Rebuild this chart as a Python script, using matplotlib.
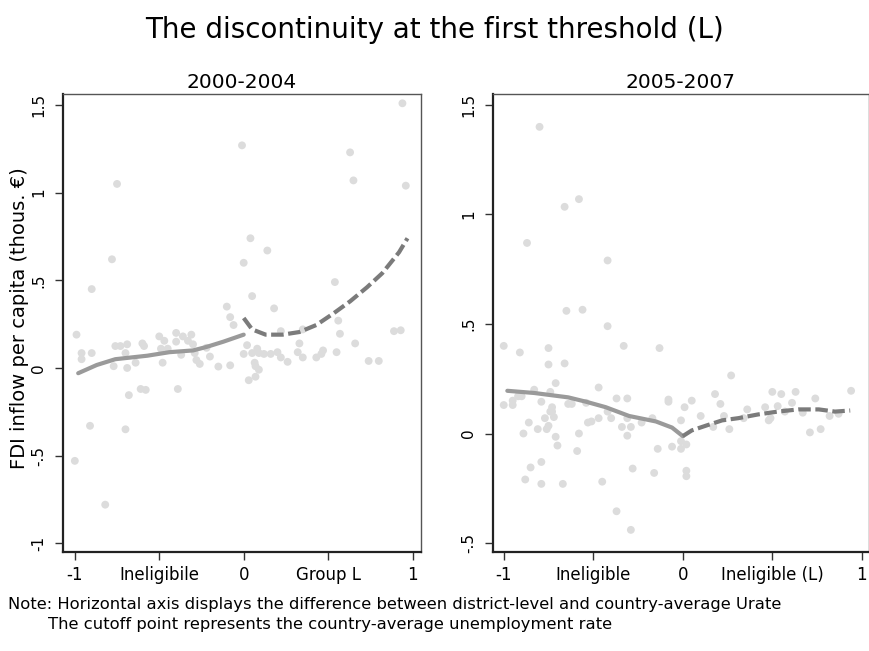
import numpy as np
import matplotlib
matplotlib.use("Agg")
import matplotlib.pyplot as plt

plt.rcParams['font.family'] = ['DejaVu Sans']

# 2000-2004 scatter (x = Urate difference, y = FDI per capita)
x1 = [-0.99, -0.96, -0.96, -0.90, -0.90, -0.78, -0.75, -0.76, -0.73, -0.69, -0.70, -0.77,
      -0.69, -0.64, -0.60, -0.59, -0.50, -0.47, -0.49, -0.45, -0.48, -0.40, -0.40, -0.36,
      -0.33, -0.31, -0.30, -0.37, -0.29, -0.28, -0.26, -0.22, -0.20, -0.15, -0.08, -0.10,
      -0.08, -0.06, -0.01, -0.68, -0.61, -0.58, -0.39, -0.91, -0.70, -1.00, -0.82,
      0.00, 0.04, 0.05, 0.02, 0.00, 0.05, 0.08, 0.09, 0.065, 0.07, 0.09, 0.07, 0.03,
      0.12, 0.16, 0.14, 0.18, 0.20, 0.22, 0.22, 0.26, 0.32, 0.33, 0.35, 0.35, 0.43,
      0.46, 0.47, 0.54, 0.56, 0.57, 0.55, 0.63, 0.65, 0.66, 0.74, 0.80, 0.89, 0.93,
      0.94, 0.96]
y1 = [0.19, 0.085, 0.05, 0.085, 0.45, 0.62, 1.05, 0.125, 0.125, 0.135, 0.085, 0.01,
      0.0, 0.03, 0.14, 0.125, 0.18, 0.155, 0.11, 0.11, 0.03, 0.20, 0.15, 0.18,
      0.155, 0.19, 0.135, 0.075, 0.085, 0.045, 0.023, 0.115, 0.065, 0.008, 0.015, 0.35,
      0.29, 0.245, 1.27, -0.155, -0.12, -0.125, -0.12, -0.33, -0.35, -0.53, -0.78,
      0.60, 0.74, 0.41, 0.13, 0.08, 0.085, 0.11, 0.085, 0.03, 0.01, -0.01, -0.05, -0.07,
      0.08, 0.08, 0.67, 0.34, 0.09, 0.06, 0.21, 0.035, 0.09, 0.14, 0.06, 0.22, 0.06,
      0.08, 0.10, 0.49, 0.27, 0.195, 0.09, 1.23, 1.07, 0.14, 0.04, 0.04, 0.21, 0.215,
      1.51, 1.04]

# 2005-2007 scatter
x2 = [-1.00, -0.91, -0.75, -0.75, -0.66, -0.87, -0.80, -0.66, -0.58, -0.65, -0.56, -0.42,
      -0.42, -0.33, -0.13, 0.27,
      -1.00, -0.95, -0.95, -0.92, -0.90, -0.83, -0.79, -0.71, -0.74, -0.73, -0.73, -0.74,
      -0.72, -0.77, -0.86, -0.81, -0.76, -0.75, -0.89, -0.71, -0.64, -0.62, -0.58, -0.54,
      -0.47, -0.53, -0.51, -0.47, -0.42, -0.40, -0.37, -0.31, -0.34, -0.29, -0.31, -0.31,
      -0.23, -0.17, -0.08, -0.08,
      -0.70, -0.59, -0.79, -0.85, -0.88, -0.79, -0.67, -0.45, -0.14, -0.28, -0.37, -0.29,
      -0.16, -0.06, -0.01, -0.01, 0.02, 0.02, 0.02,
      -0.01, 0.01, 0.05, 0.10, 0.18, 0.21, 0.23, 0.17, 0.26, 0.34, 0.36, 0.46, 0.48, 0.49,
      0.50, 0.53, 0.55, 0.57, 0.61, 0.63, 0.67, 0.71, 0.74, 0.77, 0.82, 0.87, 0.94]
y2 = [0.40, 0.37, 0.39, 0.315, 0.32, 0.87, 1.40, 1.035, 1.07, 0.56, 0.565, 0.79,
      0.49, 0.40, 0.39, 0.265,
      0.13, 0.15, 0.13, 0.17, 0.17, 0.20, 0.145, 0.23, 0.19, 0.12, 0.10, 0.10,
      0.075, 0.07, 0.05, 0.02, 0.02, 0.035, 0.0, -0.015, 0.135, 0.135, 0.0, 0.14,
      0.21, 0.05, 0.055, 0.07, 0.10, 0.07, 0.16, 0.16, 0.03, 0.03, -0.01, 0.07,
      0.05, 0.07, 0.155, 0.145,
      -0.055, -0.08, -0.13, -0.155, -0.21, -0.23, -0.23, -0.22, -0.07, -0.16, -0.355, -0.44,
      -0.18, -0.06, -0.07, -0.035, -0.05, -0.17, -0.195,
      0.06, 0.12, 0.15, 0.08, 0.18, 0.135, 0.08, 0.03, 0.02, 0.07, 0.11, 0.12, 0.06, 0.07,
      0.19, 0.125, 0.18, 0.10, 0.14, 0.19, 0.095, 0.005, 0.16, 0.02, 0.08, 0.09, 0.195]

# local fits, below / above the cutoff
fit1_lo_x = [-0.98, -0.87, -0.76, -0.57, -0.44, -0.30, -0.22, -0.12, 0.0]
fit1_lo_y = [-0.03, 0.017, 0.05, 0.07, 0.09, 0.10, 0.12, 0.15, 0.19]
fit1_hi_x = [0.0, 0.05, 0.13, 0.23, 0.33, 0.43, 0.53, 0.63, 0.73, 0.82, 0.92, 0.97]
fit1_hi_y = [0.285, 0.22, 0.19, 0.19, 0.205, 0.245, 0.31, 0.38, 0.46, 0.54, 0.66, 0.74]
fit2_lo_x = [-0.98, -0.83, -0.64, -0.54, -0.43, -0.30, -0.15, -0.06, 0.0]
fit2_lo_y = [0.195, 0.185, 0.165, 0.145, 0.12, 0.08, 0.055, 0.027, -0.012]
fit2_hi_x = [0.0, 0.05, 0.13, 0.22, 0.31, 0.42, 0.53, 0.645, 0.76, 0.85, 0.935]
fit2_hi_y = [-0.012, 0.014, 0.036, 0.06, 0.07, 0.087, 0.10, 0.11, 0.11, 0.10, 0.105]

xticks = [-1, -0.5, 0, 0.5, 1]
xlab1 = ["-1", "Ineligibile", "0", "Group L", "1"]
xlab2 = ["-1", "Ineligible", "0", "Ineligible (L)", "1"]
yticks1 = [-1, -0.5, 0, 0.5, 1, 1.5]
ylab1 = ["-1", "-.5", "0", ".5", "1", "1.5"]
yticks2 = [-0.5, 0, 0.5, 1, 1.5]
ylab2 = ["-.5", "0", ".5", "1", "1.5"]

dot_col = "#dcdcdc"
solid_col = "#9a9a9a"
dash_col = "#7b7b7b"

fig = plt.figure(figsize=(8.7, 6.51), dpi=100)
ax1 = fig.add_axes([63/870, 99/651, 358/870, 458/651])
ax2 = fig.add_axes([493/870, 99/651, 376/870, 458/651])

def panel(ax, x, y, lx, ly, hx, hy, xl, yt, yl, xlim, ylim):
    ax.scatter(x, y, s=32, color=dot_col, edgecolors="none", zorder=1)
    ax.plot(lx, ly, color=solid_col, lw=3.0, solid_capstyle="round", zorder=2)
    ax.plot(hx, hy, color=dash_col, lw=3.0, dashes=(3.0, 1.1), zorder=2)
    ax.set_xlim(xlim)
    ax.set_ylim(ylim)
    ax.set_xticks(xticks)
    ax.set_xticklabels(xl, fontsize=12)
    ax.set_yticks(yt)
    ax.set_yticklabels(yl, fontsize=11, rotation=90, va="center")
    ax.tick_params(axis="both", length=6, width=1, color="#333333", pad=4)
    ax.tick_params(axis="y", pad=6)
    for s in ["top", "right"]:
        ax.spines[s].set_color("#555555")
        ax.spines[s].set_linewidth(1.0)
    for s in ["left", "bottom"]:
        ax.spines[s].set_color("#222222")
        ax.spines[s].set_linewidth(1.6)

panel(ax1, x1, y1, fit1_lo_x, fit1_lo_y, fit1_hi_x, fit1_hi_y, xlab1,
      yticks1, ylab1, (-1.07, 1.05), (-1.05, 1.563))
panel(ax2, x2, y2, fit2_lo_x, fit2_lo_y, fit2_hi_x, fit2_hi_y, xlab2,
      yticks2, ylab2, (-1.06, 1.04), (-0.541, 1.55))

fig.text(0.5, 1 - 30/651, "The discontinuity at the first threshold (L)",
         ha="center", va="center", fontsize=20)
fig.text(242/870, 1 - 82/651, "2000-2004", ha="center", va="center", fontsize=14.5)
fig.text(681/870, 1 - 82/651, "2005-2007", ha="center", va="center", fontsize=14.5)
fig.text(20/870, 1 - 318/651, "FDI inflow per capita (thous. \u20ac)",
         rotation=90, ha="center", va="center", fontsize=14)
fig.text(8/870, 1 - 605/651,
         "Note: Horizontal axis displays the difference between district-level and country-average Urate",
         ha="left", va="center", fontsize=11.8)
fig.text(48/870, 1 - 624/651,
         "The cutoff point represents the country-average unemployment rate",
         ha="left", va="center", fontsize=11.8)

fig.savefig("out.png", dpi=100)
